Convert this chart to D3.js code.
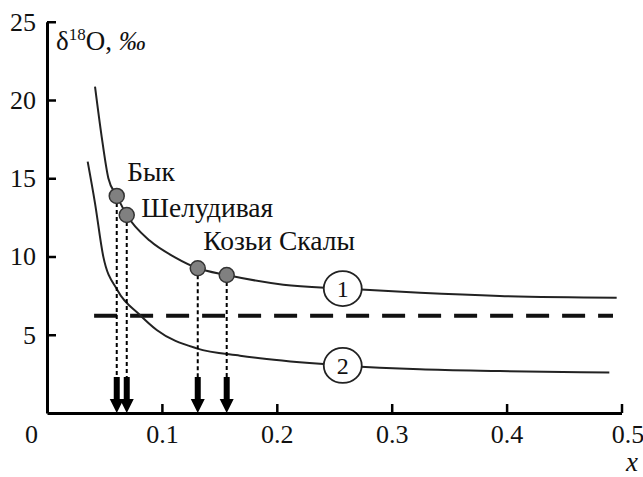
<!DOCTYPE html>
<html>
<head>
<meta charset="utf-8">
<script src="https://cdn.jsdelivr.net/npm/d3@7/dist/d3.min.js"></script>
<style>
  body { margin: 0; background: #fff; }
  svg text { font-family: "Liberation Serif", Tinos, serif; }
</style>
</head>
<body>
<script>
// values
const xTicks = [0, 0.1, 0.2, 0.3, 0.4, 0.5]
const yTicks = [5, 10, 15, 20, 25]

// curve 1
const curve1X = [0.0418, 0.0476, 0.0534, 0.0607, 0.0694, 0.0896, 0.1114, 0.1312, 0.1564, 0.2057, 0.2574, 0.3246, 0.394, 0.4958]
const curve1Y = [20.85, 17.65, 15.0, 13.87, 12.65, 11.0, 9.95, 9.25, 8.82, 8.2, 7.95, 7.68, 7.48, 7.37]
// curve 2
const curve2X = [0.0354, 0.0418, 0.049, 0.0612, 0.0809, 0.0955, 0.1303, 0.168, 0.1912, 0.2574, 0.3246, 0.394, 0.4894]
const curve2Y = [16.06, 13.4, 9.99, 7.86, 6.26, 5.30, 4.13, 3.66, 3.45, 3.04, 2.79, 2.68, 2.58]

// sites on curve 1
const siteX = [0.0607, 0.0694, 0.1312, 0.1564]
const siteY = [13.87, 12.65, 9.25, 8.82]
const siteNames = ["Бык", "Шелудивая", "Козьи Скалы"]
const arrowTop = 2.3

// dashed reference level
const levelY = 6.22
const levelX = [0.041, 0.4926]

// numbered curve labels
const curveLabels = ["1", "2"]
const curveLabelX = [0.2574, 0.2574]
const curveLabelY = [7.95, 3.04]

const W = 643, H = 477

const svg = d3.select("body").append("svg")
  .attr("width", W)
  .attr("height", H)

const x = d3.scaleLinear().domain([0, 0.5]).range([47, 621.5])
const y = d3.scaleLinear().domain([0, 25]).range([413, 21.75])

// axes (ticks point inward)
const xAxis = svg.append("g")
  .attr("transform", `translate(0,${y(0)})`)
  .call(d3.axisBottom(x).tickValues(xTicks).tickSize(-9).tickSizeOuter(0).tickPadding(12)
    .tickFormat(d => d === 0 ? "0" : d3.format(".1f")(d)))
xAxis.attr("font-family", null).attr("font-size", null)
xAxis.select(".domain").attr("stroke", "#000").attr("stroke-width", 3)
xAxis.selectAll(".tick line").attr("stroke", "#000").attr("stroke-width", 2.5)
xAxis.selectAll(".tick text")
  .style("font-size", "26px").attr("fill", "#111")
  .attr("dy", "0.71em")
  .attr("dx", d => d === 0 ? -16 : (d === 0.5 ? 6 : 0))
xAxis.selectAll(".tick").filter(d => d === 0).select("line").remove()

const yAxis = svg.append("g")
  .attr("transform", `translate(${x(0)},0)`)
  .call(d3.axisLeft(y).tickValues(yTicks).tickSize(-9).tickSizeOuter(0).tickPadding(11))
yAxis.attr("font-family", null).attr("font-size", null)
yAxis.select(".domain").attr("stroke", "#000").attr("stroke-width", 3)
yAxis.selectAll(".tick line").attr("stroke", "#000").attr("stroke-width", 2.5)
yAxis.selectAll(".tick text")
  .style("font-size", "26px").attr("fill", "#111")

// axis titles
const yTitle = svg.append("text")
  .attr("x", 56)
  .attr("y", 50)
  .style("font-size", "27px")
  .attr("fill", "#111")
yTitle.append("tspan").text("δ")
yTitle.append("tspan").style("font-size", "17px").attr("dy", -10).text("18")
yTitle.append("tspan").attr("dy", 10).text("O, ")
yTitle.append("tspan").style("font-style", "italic").text("‰")

svg.append("text")
  .attr("x", 632)
  .attr("y", 471)
  .attr("text-anchor", "middle")
  .style("font-size", "27px")
  .style("font-style", "italic")
  .attr("fill", "#111")
  .text("x")

// dashed level line
svg.append("line")
  .attr("x1", x(levelX[0])).attr("x2", x(levelX[1]))
  .attr("y1", y(levelY)).attr("y2", y(levelY))
  .attr("stroke", "#111")
  .attr("stroke-width", 4)
  .attr("stroke-dasharray", "23,13")

// curves
const line = d3.line()
  .x(d => x(d[0]))
  .y(d => y(d[1]))
  .curve(d3.curveMonotoneX)

svg.append("path")
  .datum(d3.zip(curve1X, curve1Y))
  .attr("d", line)
  .attr("fill", "none")
  .attr("stroke", "#222")
  .attr("stroke-width", 2)

svg.append("path")
  .datum(d3.zip(curve2X, curve2Y))
  .attr("d", line)
  .attr("fill", "none")
  .attr("stroke", "#222")
  .attr("stroke-width", 2)

// dotted drop lines
svg.selectAll(".drop")
  .data(d3.zip(siteX, siteY))
  .enter().append("line")
    .attr("class", "drop")
    .attr("x1", d => x(d[0])).attr("x2", d => x(d[0]))
    .attr("y1", d => y(d[1])).attr("y2", y(arrowTop))
    .attr("stroke", "#000")
    .attr("stroke-width", 2)
    .attr("stroke-dasharray", "4,3")

// arrows
const arrows = svg.selectAll(".arrow")
  .data(siteX)
  .enter().append("g")
    .attr("class", "arrow")
    .attr("transform", d => `translate(${x(d)},0)`)
arrows.append("rect")
  .attr("x", -3)
  .attr("y", y(arrowTop))
  .attr("width", 6)
  .attr("height", y(0) - 13 - y(arrowTop))
  .attr("fill", "#000")
arrows.append("path")
  .attr("d", `M-7,${y(0) - 14}L7,${y(0) - 14}L0,${y(0)}Z`)
  .attr("fill", "#000")

// site points
svg.selectAll(".site")
  .data(d3.zip(siteX, siteY))
  .enter().append("circle")
    .attr("class", "site")
    .attr("cx", d => x(d[0]))
    .attr("cy", d => y(d[1]))
    .attr("r", 7.5)
    .attr("fill", "#808080")
    .attr("stroke", "#333")
    .attr("stroke-width", 1.5)

// site names
const nameOffsets = [[10.5, -15], [14.5, 2], [5.5, -18]]
svg.selectAll(".name")
  .data(siteNames)
  .enter().append("text")
    .attr("class", "name")
    .attr("x", (d, i) => x(siteX[i]) + nameOffsets[i][0])
    .attr("y", (d, i) => y(siteY[i]) + nameOffsets[i][1])
    .style("font-size", "27.5px")
    .attr("fill", "#111")
    .text(d => d)

// numbered curve labels
const tags = svg.selectAll(".tag")
  .data(curveLabels)
  .enter().append("g")
    .attr("class", "tag")
    .attr("transform", (d, i) => `translate(${x(curveLabelX[i])},${y(curveLabelY[i])})`)
tags.append("ellipse")
  .attr("rx", 19).attr("ry", 17.5)
  .attr("fill", "#fff")
  .attr("stroke", "#222")
  .attr("stroke-width", 1.8)
tags.append("text")
  .attr("text-anchor", "middle")
  .attr("dy", "0.35em")
  .style("font-size", "24px")
  .attr("fill", "#111")
  .text(d => d)
</script>
</body>
</html>
